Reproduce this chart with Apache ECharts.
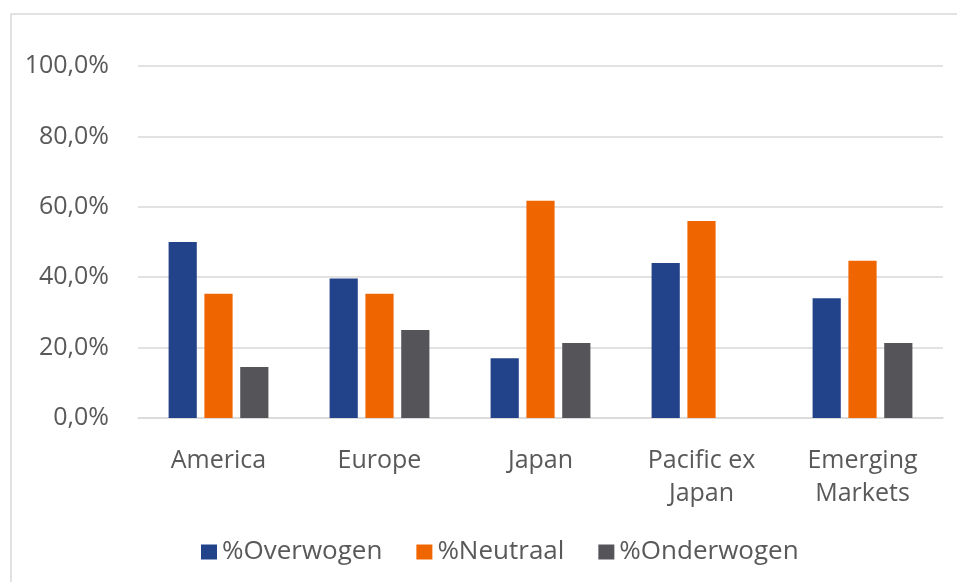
<!DOCTYPE html>
<html>
<head>
<meta charset="utf-8">
<script src="https://cdn.jsdelivr.net/npm/echarts@6/dist/echarts.min.js"></script>
<style>
  html, body { margin: 0; padding: 0; background: #ffffff; }
  #chart { width: 957px; height: 582px; }
</style>
</head>
<body>
<div id="chart"></div>
<script>
// Regions and allocation shares (percent)
const regions = ['America', 'Europe', 'Japan', 'Pacific ex\nJapan', 'Emerging\nMarkets'];
const overwogen = [50.0, 39.6, 17.0, 44.0, 34.0];
const neutraal = [35.3, 35.3, 61.7, 56.0, 44.7];
const onderwogen = [14.5, 25.0, 21.3, 0, 21.3];
const seriesNames = ['%Overwogen', '%Neutraal', '%Onderwogen'];
const yTicks = [0, 20, 40, 60, 80, 100];

const FONT = '"Open Sans", "Noto Sans", sans-serif';
const TEXT = '#595959';
const GRIDLINE = '#d9d9d9';
const colors = ['#22428a', '#ef6600', '#555459'];

const chart = echarts.init(document.getElementById('chart'), null, { renderer: 'canvas' });

const fmt = v => v.toFixed(1).replace('.', ',') + '%';

chart.setOption({
  animation: false,
  backgroundColor: '#ffffff',
  color: colors,
  textStyle: { fontFamily: FONT },
  graphic: [{
    type: 'rect',
    shape: { x: 11, y: 14, width: 980, height: 600 },
    style: { fill: 'none', stroke: GRIDLINE, lineWidth: 1.5 },
    silent: true
  }],
  grid: { left: 138, right: 14, top: 66, bottom: 164, containLabel: false },
  legend: {
    data: seriesNames,
    top: 534,
    left: 196,
    itemWidth: 16,
    itemHeight: 15,
    itemGap: 34,
    icon: 'rect',
    textStyle: { color: TEXT, fontSize: 26, fontFamily: FONT }
  },
  xAxis: {
    type: 'category',
    data: regions,
    axisLine: { show: true, lineStyle: { color: GRIDLINE, width: 1.5 } },
    axisTick: { show: false },
    axisLabel: {
      color: TEXT, fontSize: 25, fontFamily: FONT,
      lineHeight: 33, margin: 26, interval: 0
    }
  },
  yAxis: {
    type: 'value',
    min: yTicks[0],
    max: yTicks[yTicks.length - 1],
    interval: yTicks[1] - yTicks[0],
    axisLine: { show: false },
    axisTick: { show: false },
    splitLine: { lineStyle: { color: GRIDLINE, width: 1.5 } },
    axisLabel: { color: TEXT, fontSize: 25, fontFamily: FONT, margin: 29, formatter: fmt }
  },
  series: [
    { name: seriesNames[0], type: 'bar', data: overwogen, barGap: '27%', barCategoryGap: '38%' },
    { name: seriesNames[1], type: 'bar', data: neutraal, barGap: '27%', barCategoryGap: '38%' },
    { name: seriesNames[2], type: 'bar', data: onderwogen, barGap: '27%', barCategoryGap: '38%' }
  ]
});
</script>
</body>
</html>
